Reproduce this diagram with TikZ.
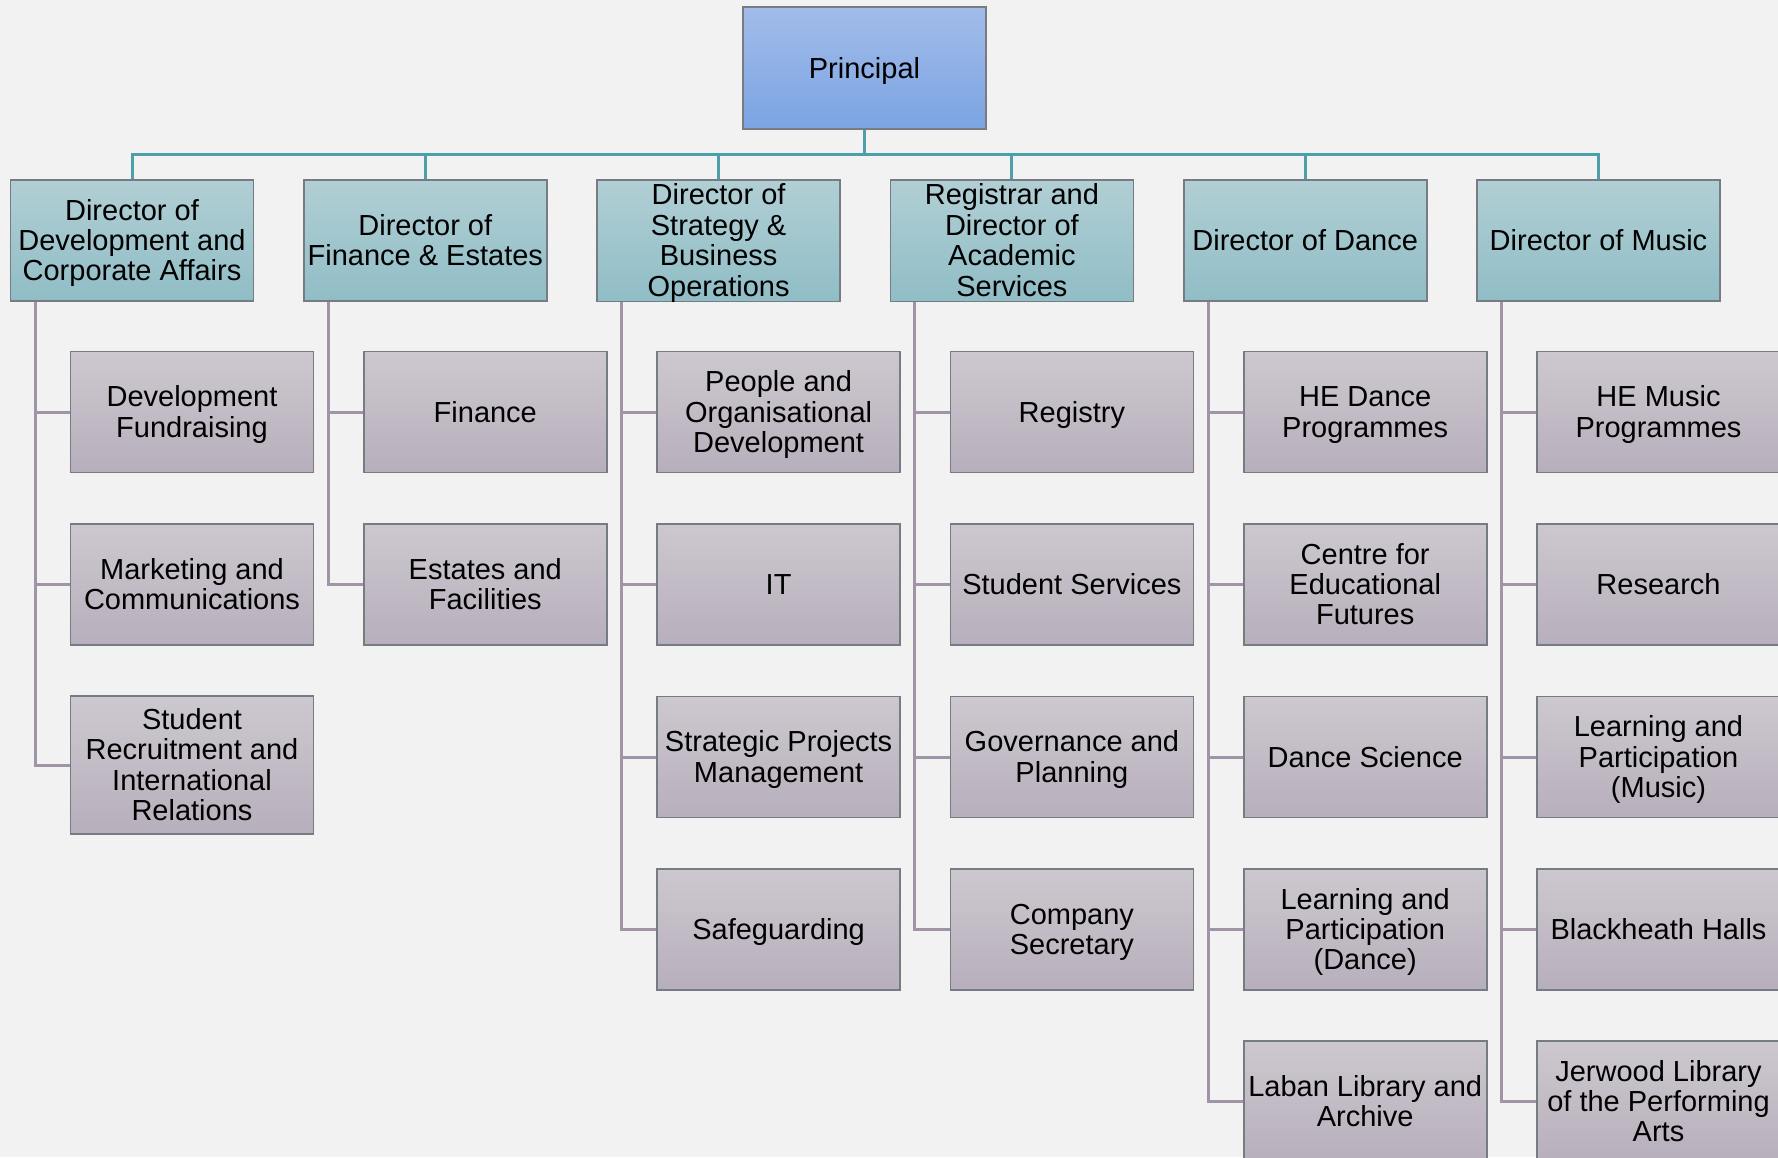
\documentclass[tikz,border=0pt]{standalone}
\usepackage{fontspec}
\setmainfont{Liberation Sans}
\definecolor{bg}{HTML}{F2F2F2}
\definecolor{ptop}{HTML}{A2BCE9}
\definecolor{pbot}{HTML}{7BA4E3}
\definecolor{dtop}{HTML}{B1CFD4}
\definecolor{dbot}{HTML}{90BDC6}
\definecolor{ctop}{HTML}{CDC8CF}
\definecolor{cbot}{HTML}{B7AFBC}
\definecolor{bordergrey}{HTML}{767C82}
\definecolor{tealline}{HTML}{4F9FAA}
\definecolor{mauveline}{HTML}{A194A7}
\newcommand\boxlbl[1]{\raisebox{-2pt}[\height][\depth]{\begin{tabular}{@{}c@{}}#1\end{tabular}}}
\begin{document}
\begin{tikzpicture}[x=0.5pt,y=-0.5pt,
  box/.style={draw=bordergrey, line width=0.8pt, minimum width=121.5pt, minimum height=60.5pt,
    inner sep=0pt, font=\fontsize{14.5}{15.2}\selectfont, text=black, shading=axis},
  principalbox/.style={box, top color=ptop, bottom color=pbot, minimum height=61pt},
  dirbox/.style={box, top color=dtop, bottom color=dbot},
  unitbox/.style={box, top color=ctop, bottom color=cbot},
  tallbox/.style={unitbox, minimum height=68.75pt},
  topline/.style={draw=tealline, line width=1.5pt},
  unitline/.style={draw=mauveline, line width=1.5pt}
]
\fill[bg] (0,0) rectangle (1778,1157);
\useasboundingbox (0,0) rectangle (1778,1157);

\coordinate (bus) at (0,154);
\node[principalbox] (P) at (864.5,68) {\boxlbl{Principal}};

% directors
\node[dirbox] (d1) at (132,240.5) {\boxlbl{Director of\\Development and\\Corporate Affairs}};
\node[dirbox] (d2) at (425.3,240.5) {\boxlbl{Director of\\Finance \& Estates}};
\node[dirbox] (d3) at (718.6,240.5) {\boxlbl{Director of\\Strategy \&\\Business\\Operations}};
\node[dirbox] (d4) at (1011.9,240.5) {\boxlbl{Registrar and\\Director of\\Academic\\Services}};
\node[dirbox] (d5) at (1305.2,240.5) {\boxlbl{Director of Dance}};
\node[dirbox] (d6) at (1598.5,240.5) {\boxlbl{Director of Music}};

% spine coordinates
\coordinate (s1) at (35,0);
\coordinate (s2) at (328.3,0);
\coordinate (s3) at (621.6,0);
\coordinate (s4) at (914.9,0);
\coordinate (s5) at (1208.2,0);
\coordinate (s6) at (1501.5,0);

% column 1
\node[unitbox] (c11) at (192,412) {\boxlbl{Development\\Fundraising}};
\node[unitbox] (c12) at (192,584.5) {\boxlbl{Marketing and\\Communications}};
\node[tallbox] (c13) at (192,765) {\boxlbl{Student\\Recruitment and\\International\\Relations}};
% column 2
\node[unitbox] (c21) at (485.3,412) {\boxlbl{Finance}};
\node[unitbox] (c22) at (485.3,584.5) {\boxlbl{Estates and\\Facilities}};
% column 3
\node[unitbox] (c31) at (778.6,412) {\boxlbl{People and\\Organisational\\Development}};
\node[unitbox] (c32) at (778.6,584.5) {\boxlbl{IT}};
\node[unitbox] (c33) at (778.6,757) {\boxlbl{Strategic Projects\\Management}};
\node[unitbox] (c34) at (778.6,929.5) {\boxlbl{Safeguarding}};
% column 4
\node[unitbox] (c41) at (1071.9,412) {\boxlbl{Registry}};
\node[unitbox] (c42) at (1071.9,584.5) {\boxlbl{Student Services}};
\node[unitbox] (c43) at (1071.9,757) {\boxlbl{Governance and\\Planning}};
\node[unitbox] (c44) at (1071.9,929.5) {\boxlbl{Company\\Secretary}};
% column 5
\node[unitbox] (c51) at (1365.2,412) {\boxlbl{HE Dance\\Programmes}};
\node[unitbox] (c52) at (1365.2,584.5) {\boxlbl{Centre for\\Educational\\Futures}};
\node[unitbox] (c53) at (1365.2,757) {\boxlbl{Dance Science}};
\node[unitbox] (c54) at (1365.2,929.5) {\boxlbl{Learning and\\Participation\\(Dance)}};
\node[unitbox] (c55) at (1365.2,1101.5) {\boxlbl{Laban Library and\\Archive}};
% column 6
\node[unitbox] (c61) at (1658.5,412) {\boxlbl{HE Music\\Programmes}};
\node[unitbox] (c62) at (1658.5,584.5) {\boxlbl{Research}};
\node[unitbox] (c63) at (1658.5,757) {\boxlbl{Learning and\\Participation\\(Music)}};
\node[unitbox] (c64) at (1658.5,929.5) {\boxlbl{Blackheath Halls}};
\node[unitbox] (c65) at (1658.5,1101.5) {\boxlbl{Jerwood Library\\of the Performing\\Arts}};

% top connectors
\foreach \d in {d1,d2,d3,d4,d5,d6}
  \draw[topline] (P.south) -- (P.south |- bus) -| (\d.north);

% unit connectors
\foreach \c in {c11,c12,c13} \draw[unitline] (d1.south -| s1) |- (\c.west);
\foreach \c in {c21,c22} \draw[unitline] (d2.south -| s2) |- (\c.west);
\foreach \c in {c31,c32,c33,c34} \draw[unitline] (d3.south -| s3) |- (\c.west);
\foreach \c in {c41,c42,c43,c44} \draw[unitline] (d4.south -| s4) |- (\c.west);
\foreach \c in {c51,c52,c53,c54,c55} \draw[unitline] (d5.south -| s5) |- (\c.west);
\foreach \c in {c61,c62,c63,c64,c65} \draw[unitline] (d6.south -| s6) |- (\c.west);
\end{tikzpicture}
\end{document}
